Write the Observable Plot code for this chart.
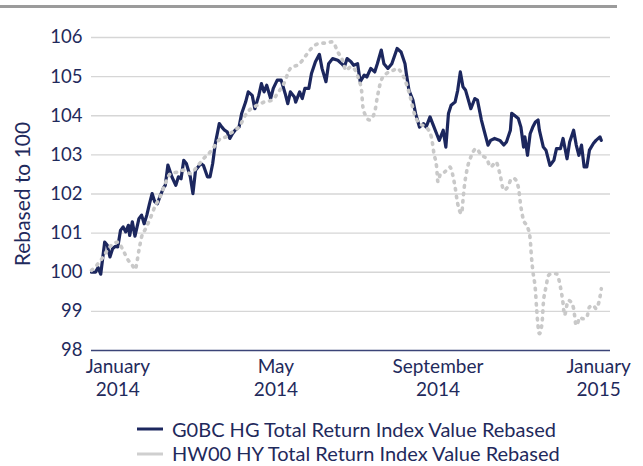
<!DOCTYPE html>
<html><head><meta charset="utf-8">
<script src="https://cdn.jsdelivr.net/npm/d3@7"></script>
<script src="https://cdn.jsdelivr.net/npm/@observablehq/plot@0.6"></script>
<style>
body{margin:0;background:#fff;font-family:Lato,sans-serif;color:#1f2a5c;}
#wrap{position:relative;width:643px;height:466px;overflow:hidden;}
#topline{position:absolute;left:0;top:5px;width:617px;height:3px;background:#9b9b9b;}
#chart{position:absolute;left:0;top:0;}
#legend{position:absolute;left:137px;top:417px;font-size:20px;line-height:1.15;}
.row{display:flex;align-items:center;height:24.5px;white-space:nowrap;}
.row svg{margin-right:9px;flex:none;}
</style></head><body>
<div id="wrap"><div id="chart"></div><div id="topline"></div><div id="legend"></div></div>
<script>
// Series names
const seriesNames = ["G0BC HG Total Return Index Value Rebased", "HW00 HY Total Return Index Value Rebased"];
// Day offsets from the series start date
const hgDays = [0,3,5,7,10,12,14,16,18,20,22,24,26,28,29,31,33,36,38,40,42,44,46,48,50,52,55,56,58,61,64,66,68,70,72,75,77,79,83,85,88,90,92,94,97,99,101,103,105,107,109,112,114,117,119,122,124,127,129,131,133,136,138,141,144,147,149,151,154,155,158,160,162,165,167,170,173,175,178,180,183,187,190,192,194,197,199,202,204,207,209,212,215,217,220,222,225,228,232,235,238,239,241,244,246,249,252,254,257,259,262,264,267,269,271,273,276,278,280,282,284,288,291,293,296,298,301,303,306,310,313,315,318,319,321,324,326,328,329,331,333,335,337,339,340,343,345,348,351,353,356,358,361,363,366,368,370,372,374,376,378,381,383,386,387];
const hgValues = [100.0,100.0,100.12,99.95,100.77,100.69,100.39,100.60,100.66,100.65,101.07,101.16,101.03,101.20,100.94,101.29,100.92,101.37,101.46,101.24,101.46,101.75,102.01,101.80,101.75,101.94,102.18,102.22,102.74,102.44,102.22,102.44,102.39,102.86,102.78,102.44,102.01,102.61,102.78,102.73,102.44,102.44,102.78,103.29,103.80,103.71,103.63,103.59,103.42,103.54,103.63,103.71,104.06,104.35,104.61,104.52,104.18,104.52,104.82,104.61,104.78,104.44,104.70,104.91,104.91,104.57,104.31,104.61,104.48,104.35,104.61,104.44,104.70,104.70,105.08,105.38,105.57,105.21,104.87,105.33,105.46,105.42,105.33,105.25,105.46,105.38,105.29,105.33,104.87,105.04,104.99,105.21,105.12,105.33,105.68,105.33,105.21,105.33,105.72,105.63,105.33,105.08,104.65,104.40,104.06,103.71,103.80,103.71,103.97,103.80,103.54,103.37,103.63,103.20,104.06,104.27,104.35,104.65,105.12,104.74,104.65,104.18,104.44,104.40,103.89,103.63,103.25,103.37,103.42,103.37,103.25,103.33,103.63,104.06,104.01,103.93,103.71,103.20,103.46,102.99,103.54,103.71,103.84,103.89,103.63,103.20,103.12,102.73,102.86,103.16,103.16,103.42,102.90,103.33,103.63,103.25,102.99,103.25,102.69,102.69,103.12,103.29,103.37,103.46,103.37];
const hyDays = [0,4,8,12,15,20,24,28,31,33,36,38,41,45,48,52,56,60,65,70,75,80,85,90,94,98,102,105,109,113,116,121,126,131,137,142,146,151,158,163,168,173,178,183,187,191,193,197,201,203,205,206,208,211,215,217,220,224,229,232,234,238,242,245,249,254,258,260,262,263,265,268,272,274,276,278,281,282,283,285,288,292,296,300,303,307,310,313,316,319,321,324,326,328,331,333,334,335,337,338,340,342,343,345,347,349,353,356,358,359,362,364,366,368,371,373,376,378,381,383,386,387];
const hyValues = [100.05,100.18,100.35,100.56,100.69,100.77,100.56,100.30,100.18,100.07,100.56,100.90,101.11,101.41,101.67,101.92,102.27,102.52,102.56,102.61,102.52,102.69,102.90,103.07,103.25,103.42,103.46,103.54,103.63,103.76,103.97,104.18,104.27,104.35,104.40,104.61,104.82,105.21,105.33,105.55,105.76,105.85,105.86,105.89,105.63,105.38,105.16,105.25,105.12,104.91,104.65,104.23,104.01,103.89,104.10,104.48,104.91,105.08,105.16,105.21,105.16,104.91,104.48,104.06,103.80,103.71,103.46,103.03,102.69,102.31,102.52,102.56,102.69,102.52,102.18,101.75,101.50,101.84,102.18,102.61,102.95,103.16,102.99,102.90,102.69,102.82,102.52,102.10,102.18,102.39,102.39,102.18,101.67,101.33,101.16,100.86,100.39,100.05,99.54,99.03,98.43,98.69,99.20,99.62,99.92,99.96,99.96,99.62,99.20,98.90,99.28,99.24,99.07,98.64,98.85,98.81,98.85,99.11,99.15,99.07,99.37,99.58];
// Axis ticks
const yTicks = [98,99,100,101,102,103,104,105,106];
const xTickDates = ["2014-01-01","2014-05-01","2014-09-01","2015-01-01"];
const xTickLabels = ["January\n2014","May\n2014","September\n2014","January\n2015"];
const yLabel = "Rebased to 100";

const navy = "#1f2a5c";
const lineNavy = "#1c275e";
const lightGray = "#c9c9c9";

const start = new Date(Date.UTC(2013, 11, 12));
const toDate = d => d3.utcDay.offset(start, d);
const hg = hgDays.map((d, i) => ({date: toDate(d), value: hgValues[i]}));
const hy = hyDays.map((d, i) => ({date: toDate(d), value: hyValues[i]}));
const tickDates = xTickDates.map(s => new Date(s + "T00:00:00Z"));

const chart = Plot.plot({
  width: 643, height: 410,
  marginLeft: 91, marginRight: 33, marginTop: 37, marginBottom: 60,
  style: {fontFamily: "Lato, sans-serif", color: navy, background: "transparent", overflow: "visible"},
  x: {type: "utc", domain: [start, toDate(394)]},
  y: {domain: [98, 106]},
  marks: [
    Plot.gridY(yTicks.slice(1), {stroke: "#d6d6d6", strokeOpacity: 1, strokeWidth: 1.3}),
    Plot.ruleY([98], {stroke: "#3b4477", strokeWidth: 1.3}),
    Plot.axisY(yTicks, {tickSize: 0, tickPadding: 9, fontSize: 18.5, fill: navy,
      label: null}),
    Plot.axisY({label: yLabel, labelAnchor: "center", labelArrow: "none", labelOffset: 76,
      fontSize: 21, fill: navy, ticks: [], tickSize: 0}),
    Plot.axisX(tickDates, {tickSize: 0, tickPadding: 7, fontSize: 19, fill: navy, lineHeight: 1.18,
      tickFormat: d => xTickLabels[tickDates.findIndex(t => +t === +d)], label: null}),
    Plot.line(hg, {x: "date", y: "value", stroke: lineNavy, strokeWidth: 3.2, strokeLinejoin: "round"}),
    Plot.line(hy, {x: "date", y: "value", stroke: lightGray, strokeWidth: 3.6,
      strokeDasharray: "1.5,6", strokeLinecap: "round", curve: "monotone-x"})
  ]
});
document.getElementById("chart").appendChild(chart);

const legend = document.getElementById("legend");
const swatches = [{stroke: lineNavy}, {stroke: "#cfcfcf"}];
seriesNames.forEach((name, i) => {
  const row = document.createElement("div");
  row.className = "row";
  row.innerHTML = `<svg width="26" height="6"><line x1="0" x2="26" y1="3" y2="3" stroke="${swatches[i].stroke}" stroke-width="3"/></svg><span>${name}</span>`;
  legend.appendChild(row);
});
</script>
</body></html>
